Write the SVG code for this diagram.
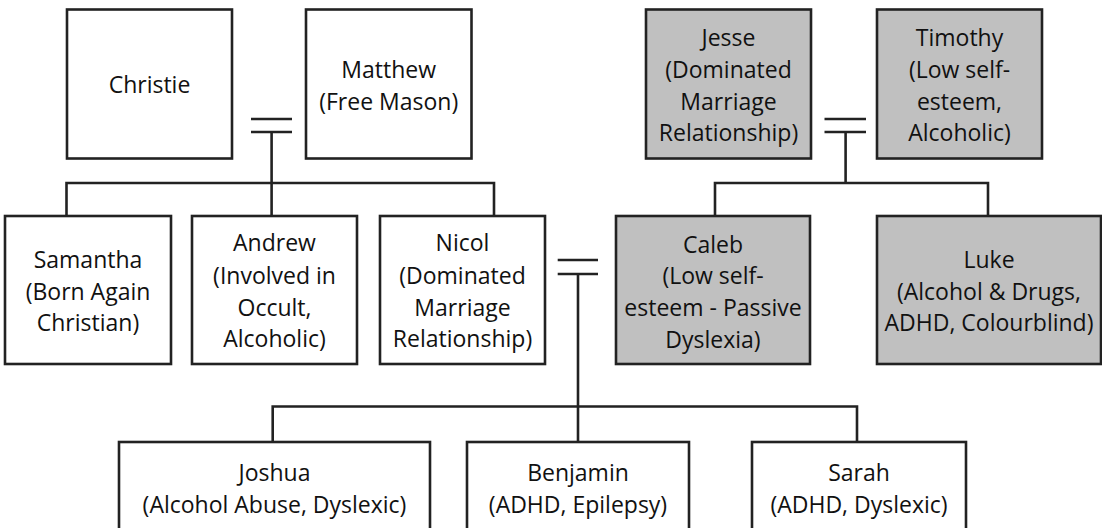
<svg xmlns="http://www.w3.org/2000/svg" width="1102" height="528" viewBox="0 0 1102 528">
<style>
.box{fill:#ffffff;stroke:#222222;stroke-width:2.6}
.grey{fill:#c0c0c0}
.ln{stroke:#222222;stroke-width:2.6;fill:none}
text{font-family:"Open Sans","Noto Sans",sans-serif;font-size:23px;fill:#111111;text-anchor:middle}
</style>
<rect width="1102" height="528" fill="#ffffff"/>
<g id="connectors">
<line class="ln" x1="251" y1="119" x2="292" y2="119"/>
<line class="ln" x1="251" y1="132" x2="292" y2="132"/>
<line class="ln" x1="271.6" y1="132" x2="271.6" y2="216"/>
<polyline class="ln" points="66.5,216 66.5,183 494,183 494,216"/>
<line class="ln" x1="824.5" y1="119" x2="866" y2="119"/>
<line class="ln" x1="824.5" y1="132" x2="866" y2="132"/>
<line class="ln" x1="845.6" y1="132" x2="845.6" y2="183"/>
<polyline class="ln" points="715,216 715,183 988,183 988,216"/>
<line class="ln" x1="557.7" y1="260" x2="598" y2="260"/>
<line class="ln" x1="557.7" y1="274" x2="598" y2="274"/>
<line class="ln" x1="578" y1="274" x2="578" y2="442"/>
<polyline class="ln" points="272.7,442 272.7,406.5 857,406.5 857,442"/>
</g>
<g id="christie"><rect class="box" x="67" y="9.5" width="165" height="149"/><text x="149.5" y="93">Christie</text></g>
<g id="matthew"><rect class="box" x="306" y="9.5" width="165.5" height="149"/><text x="388.7" y="78">Matthew</text><text x="388.7" y="110">(Free Mason)</text></g>
<g id="jesse"><rect class="box grey" x="646" y="9.5" width="165" height="149"/><text x="728.5" y="46">Jesse</text><text x="728.5" y="78">(Dominated</text><text x="728.5" y="110">Marriage</text><text x="728.5" y="141">Relationship)</text></g>
<g id="timothy"><rect class="box grey" x="877" y="9.5" width="165" height="149"/><text x="959.5" y="46">Timothy</text><text x="959.5" y="78">(Low self-</text><text x="959.5" y="110">esteem,</text><text x="959.5" y="141">Alcoholic)</text></g>
<g id="samantha"><rect class="box" x="5" y="216" width="166" height="148"/><text x="88" y="268">Samantha</text><text x="88" y="300">(Born Again</text><text x="88" y="331">Christian)</text></g>
<g id="andrew"><rect class="box" x="192" y="216" width="165" height="148"/><text x="274.5" y="251">Andrew</text><text x="274.5" y="284">(Involved in</text><text x="274.5" y="316">Occult,</text><text x="274.5" y="347">Alcoholic)</text></g>
<g id="nicol"><rect class="box" x="380" y="216" width="165" height="148"/><text x="462.5" y="251">Nicol</text><text x="462.5" y="284">(Dominated</text><text x="462.5" y="316">Marriage</text><text x="462.5" y="347">Relationship)</text></g>
<g id="caleb"><rect class="box grey" x="616" y="216" width="194" height="148"/><text x="713" y="253">Caleb</text><text x="713" y="284">(Low self-</text><text x="713" y="316">esteem - Passive</text><text x="713" y="348">Dyslexia)</text></g>
<g id="luke"><rect class="box grey" x="877" y="216" width="224" height="148"/><text x="989" y="268">Luke</text><text x="989" y="300">(Alcohol &amp; Drugs,</text><text x="989" y="331">ADHD, Colourblind)</text></g>
<g id="joshua"><rect class="box" x="119" y="442" width="311" height="100"/><text x="274.5" y="481">Joshua</text><text x="274.5" y="513">(Alcohol Abuse, Dyslexic)</text></g>
<g id="benjamin"><rect class="box" x="467" y="442" width="222" height="100"/><text x="578" y="481">Benjamin</text><text x="578" y="513">(ADHD, Epilepsy)</text></g>
<g id="sarah"><rect class="box" x="752" y="442" width="214" height="100"/><text x="859" y="481">Sarah</text><text x="859" y="513">(ADHD, Dyslexic)</text></g>
</svg>
